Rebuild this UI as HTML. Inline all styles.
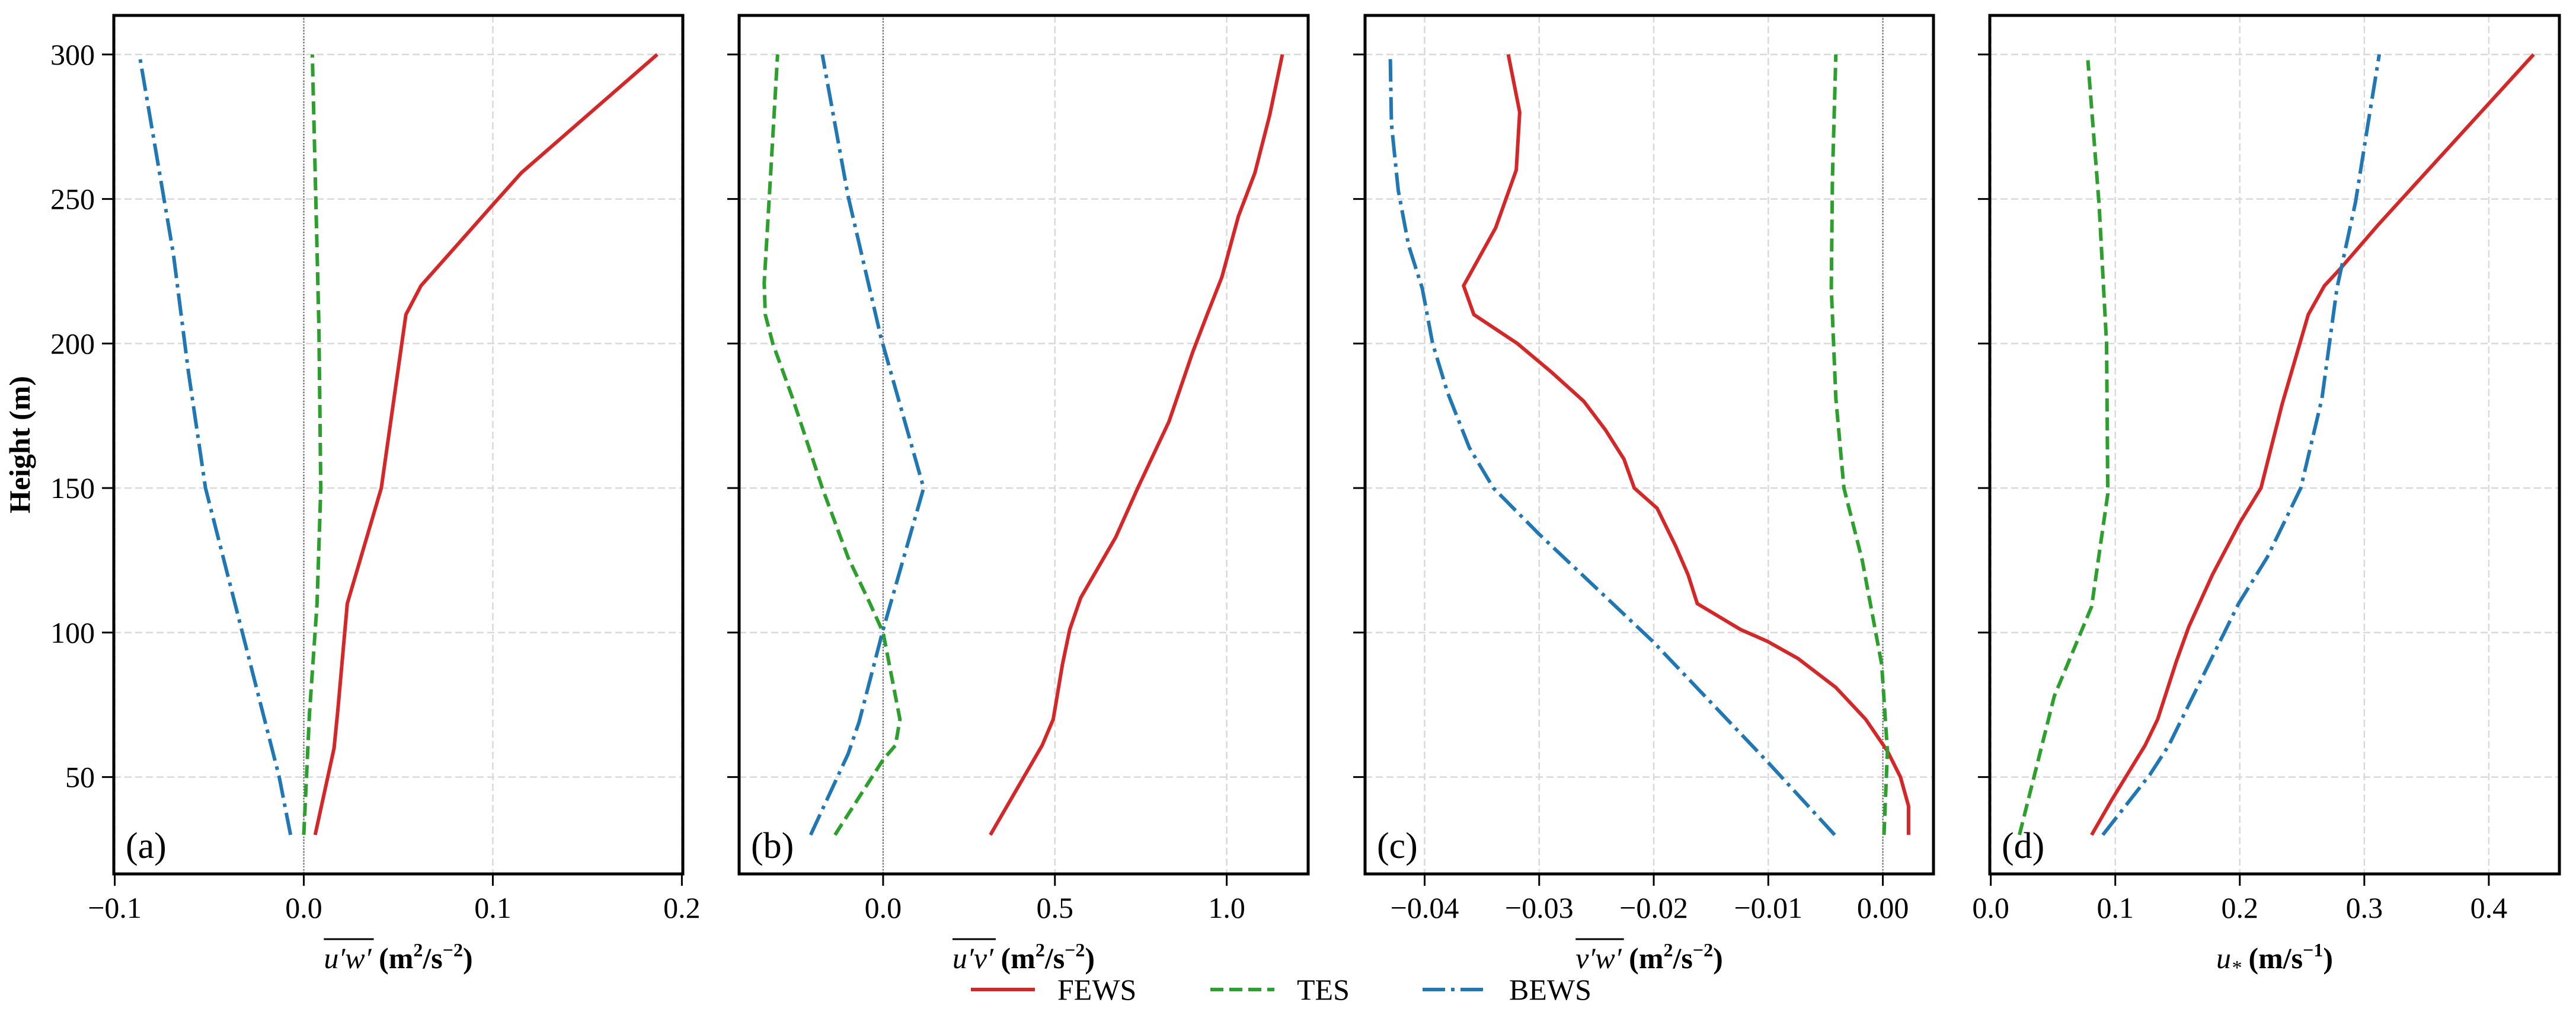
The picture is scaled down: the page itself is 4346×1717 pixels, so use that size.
<!DOCTYPE html>
<html><head><meta charset="utf-8">
<style>
html,body{margin:0;padding:0;background:#fff;}
svg{display:block;font-family:"Liberation Serif","DejaVu Serif",serif;}
</style></head>
<body>
<svg id="chart" width="4346" height="1717" viewBox="0 0 4346 1717" xmlns="http://www.w3.org/2000/svg">
<rect x="0" y="0" width="4346" height="1717" fill="#fff"/>
</svg>
<script>
// ---- data (heights in m, values in panel units) ----
const yTicks = [50,100,150,200,250,300];
const aTicks = [-0.1,0.0,0.1,0.2];
const aTickLabels = ["\u22120.1","0.0","0.1","0.2"];
const bTicks = [0.0,0.5,1.0];
const bTickLabels = ["0.0","0.5","1.0"];
const cTicks = [-0.04,-0.03,-0.02,-0.01,0.0];
const cTickLabels = ["\u22120.04","\u22120.03","\u22120.02","\u22120.01","0.00"];
const dTicks = [0.0,0.1,0.2,0.3,0.4];
const dTickLabels = ["0.0","0.1","0.2","0.3","0.4"];

const aFewsH = [30,60,73,110,150,210,220,248,259,300];
const aFewsV = [0.006,0.016,0.018,0.023,0.041,0.054,0.062,0.100,0.115,0.187];
const aTesH = [30,72,110,150,206,300];
const aTesV = [0.000,0.003,0.007,0.009,0.008,0.0045];
const aBewsH = [30,50,150,190,231,300];
const aBewsV = [-0.007,-0.013,-0.052,-0.061,-0.069,-0.087];

const bFewsH = [30,61,70,89,101,112,133,150,173,197,210,223,244,259,279,300];
const bFewsV = [0.312,0.463,0.495,0.522,0.543,0.575,0.677,0.741,0.832,0.901,0.943,0.986,1.034,1.082,1.125,1.162];
const bTesH = [30,56,61,70,100,110,126,150,181,200,210,221,249,300];
const bTesV = [-0.140,0.0,0.036,0.049,0.0,-0.038,-0.102,-0.177,-0.263,-0.321,-0.343,-0.346,-0.332,-0.307];
const bBewsH = [30,58,69,101,150,202,251,300];
const bBewsV = [-0.211,-0.102,-0.070,0.0,0.118,-0.006,-0.102,-0.177];

const cFewsH = [30,40,50,59,70,81,91,97,101,110,120,130,143,150,160,170,180,190,200,210,220,240,260,280,300];
const cFewsV = [0.00224,0.00224,0.00154,0.0004,-0.0015,-0.0041,-0.0074,-0.0101,-0.0124,-0.0162,-0.0170,-0.0181,-0.0197,-0.0217,-0.0226,-0.0242,-0.0261,-0.0289,-0.0319,-0.0357,-0.0366,-0.0338,-0.0320,-0.0317,-0.0327];
const cTesH = [30,59,89,125,150,181,219,257,300];
const cTesV = [0.0001,0.0004,-0.0001,-0.0018,-0.0034,-0.0041,-0.0045,-0.0044,-0.0041];
const cBewsH = [30,55,97,134,150,164,183,200,219,234,253,276,300];
const cBewsV = [-0.0042,-0.0100,-0.0201,-0.0300,-0.0340,-0.0361,-0.0380,-0.0393,-0.0402,-0.0414,-0.0423,-0.0429,-0.0430];

const dFewsH = [30,42,61,70,90,102,120,138,150,179,210,220,226,241,300];
const dFewsV = [0.081,0.097,0.124,0.134,0.149,0.159,0.178,0.200,0.217,0.234,0.255,0.268,0.281,0.311,0.436];
const dTesH = [30,78,109,148,200,248,298];
const dTesV = [0.023,0.051,0.081,0.094,0.093,0.087,0.078];
const dBewsH = [30,51,61,110,126,150,181,219,249,276,300];
const dBewsV = [0.090,0.128,0.143,0.199,0.222,0.249,0.266,0.278,0.293,0.303,0.312];

const legendLabels = ["FEWS","TES","BEWS"];

// ---- layout ----
const NS = "http://www.w3.org/2000/svg";
const svg = document.getElementById('chart');
const TOP = 26, BOT = 1474;
const Y0 = 16.5, Y1 = 313.5;
function yPos(h){ return BOT - (h - Y0) / (Y1 - Y0) * (BOT - TOP); }
const COLORS = {FEWS:"#d62728", TES:"#2ca02c", BEWS:"#1f77b4"};
const DASH = {FEWS:"none", TES:"22 10", BEWS:"38 10 6 10"};

function mk(tag, attrs, parent){
  const e = document.createElementNS(NS, tag);
  for (const k in attrs) e.setAttribute(k, attrs[k]);
  (parent || svg).appendChild(e);
  return e;
}

const panels = [
  {id:"a", L:192, R:1152, xmin:-0.1005, xmax:0.2005, ticks:aTicks, labels:aTickLabels, zero:true,
   series:[["FEWS",aFewsH,aFewsV],["TES",aTesH,aTesV],["BEWS",aBewsH,aBewsV]], xl:["u\u2032w\u2032"," (m","2","/s","\u22122",")"]},
  {id:"b", L:1247, R:2207, xmin:-0.419, xmax:1.237, ticks:bTicks, labels:bTickLabels, zero:true,
   series:[["FEWS",bFewsH,bFewsV],["TES",bTesH,bTesV],["BEWS",bBewsH,bBewsV]], xl:["u\u2032v\u2032"," (m","2","/s","\u22122",")"]},
  {id:"c", L:2303, R:3262, xmin:-0.0452, xmax:0.00442, ticks:cTicks, labels:cTickLabels, zero:true,
   series:[["FEWS",cFewsH,cFewsV],["TES",cTesH,cTesV],["BEWS",cBewsH,cBewsV]], xl:["v\u2032w\u2032"," (m","2","/s","\u22122",")"]},
  {id:"d", L:3357, R:4318, xmin:-0.0008, xmax:0.4567, ticks:dTicks, labels:dTickLabels, zero:false,
   series:[["FEWS",dFewsH,dFewsV],["TES",dTesH,dTesV],["BEWS",dBewsH,dBewsV]], xl:null}
];

panels.forEach(p => {
  const g = mk('g', {});
  
  
  const xPos = v => p.L + (v - p.xmin) / (p.xmax - p.xmin) * (p.R - p.L);
  // grid
  yTicks.forEach(t => {
    const ln = mk('line', {x1:p.L, x2:p.R, y1:yPos(t), y2:yPos(t), stroke:"#d9d9d9", "stroke-width":2.5, "stroke-dasharray":"12 6"}, g);
    
    
  });
  p.ticks.forEach(t => {
    const ln = mk('line', {x1:xPos(t), x2:xPos(t), y1:TOP, y2:BOT, stroke:"#d9d9d9", "stroke-width":2.5, "stroke-dasharray":"12 6"}, g);
    
    
  });
  if (p.zero) {
    const z = mk('line', {x1:xPos(0), x2:xPos(0), y1:TOP, y2:BOT, stroke:"#555", "stroke-width":2, "stroke-dasharray":"2 3"}, g);
    
    
  }
  // series
  p.series.forEach(s => {
    const [name, H, V] = s;
    const pts = H.map((h, i) => xPos(V[i]).toFixed(1) + "," + yPos(h).toFixed(1)).join(" ");
    const pl = mk('polyline', {points:pts, fill:"none", stroke:COLORS[name], "stroke-width":6, "stroke-linejoin":"round", "stroke-dasharray":DASH[name]}, g);
    
    
  });
  // frame
  const fr = mk('rect', {x:p.L, y:TOP, width:p.R - p.L, height:BOT - TOP, fill:"none", stroke:"#000", "stroke-width":5}, g);
  
  
  // y ticks
  yTicks.forEach(t => {
    const tk = mk('line', {x1:p.L - 20, x2:p.L, y1:yPos(t), y2:yPos(t), stroke:"#000", "stroke-width":3}, g);
    
    
    if (p.id === "a") {
      const tx = mk('text', {x:p.L - 32, y:yPos(t) + 17, "font-size":50, "text-anchor":"end", fill:"#000"}, g);
      tx.textContent = String(t);
      
      
    }
  });
  // x ticks
  p.ticks.forEach((t, i) => {
    const tk = mk('line', {x1:xPos(t), x2:xPos(t), y1:BOT, y2:BOT + 20, stroke:"#000", "stroke-width":3}, g);
    
    
    const tx = mk('text', {x:xPos(t), y:1548, "font-size":50, "text-anchor":"middle", fill:"#000"}, g);
    tx.textContent = p.labels[i];
    
    
  });
  // panel label
  const pl = mk('text', {x:p.L + 20, y:1447, "font-size":62, fill:"#000"}, g);
  pl.textContent = "(" + p.id + ")";
  
  
  // x-axis title
  const cx = (p.L + p.R) / 2;
  const xt = mk('text', {x:cx, y:1633, "font-size":50, "text-anchor":"middle", fill:"#000"}, g);
  
  
  if (p.xl) {
    const t1 = mk('tspan', {"font-style":"italic"}, xt); t1.textContent = p.xl[0];
    const t2 = mk('tspan', {"font-weight":"bold"}, xt); t2.textContent = p.xl[1];
    const t3 = mk('tspan', {"font-weight":"bold", "font-size":32, dy:-20}, xt); t3.textContent = p.xl[2];
    const t4 = mk('tspan', {"font-weight":"bold", dy:20}, xt); t4.textContent = p.xl[3];
    const t5 = mk('tspan', {"font-weight":"bold", "font-size":32, dy:-20}, xt); t5.textContent = p.xl[4];
    const t6 = mk('tspan', {"font-weight":"bold", dy:20}, xt); t6.textContent = p.xl[5];
    try {
      const bb = xt.getBBox();
      const w1 = xt.getSubStringLength(0, p.xl[0].length);
      const ol = mk('line', {x1:bb.x, x2:bb.x + w1 + 4, y1:1584, y2:1584, stroke:"#000", "stroke-width":3}, g);
      
      
    } catch(e) {}
  } else {
    const t1 = mk('tspan', {"font-style":"italic"}, xt); t1.textContent = "u";
    const t2 = mk('tspan', {"font-style":"italic", "font-size":34, dy:10}, xt); t2.textContent = "*";
    const t3 = mk('tspan', {"font-weight":"bold", dy:-10}, xt); t3.textContent = " (m/s";
    const t4 = mk('tspan', {"font-weight":"bold", "font-size":32, dy:-20}, xt); t4.textContent = "\u22121";
    const t5 = mk('tspan', {"font-weight":"bold", dy:20}, xt); t5.textContent = ")";
  }
});

// y-axis title
const yt = mk('text', {x:0, y:0, "font-size":50, "font-weight":"bold", "text-anchor":"middle", fill:"#000", transform:"translate(50,750) rotate(-90)"});
yt.textContent = "Height (m)";



// legend
const legendX = [1638, 2042, 2400];
const lg = mk('g', {});


legendLabels.forEach((name, i) => {
  const ln = mk('line', {x1:legendX[i], x2:legendX[i] + 108, y1:1669, y2:1669, stroke:COLORS[name], "stroke-width":6, "stroke-dasharray":DASH[name]}, lg);
  
  
  const tx = mk('text', {x:legendX[i] + 146, y:1686, "font-size":50, fill:"#000"}, lg);
  tx.textContent = name;
  
  
});
</script>
</body></html>
